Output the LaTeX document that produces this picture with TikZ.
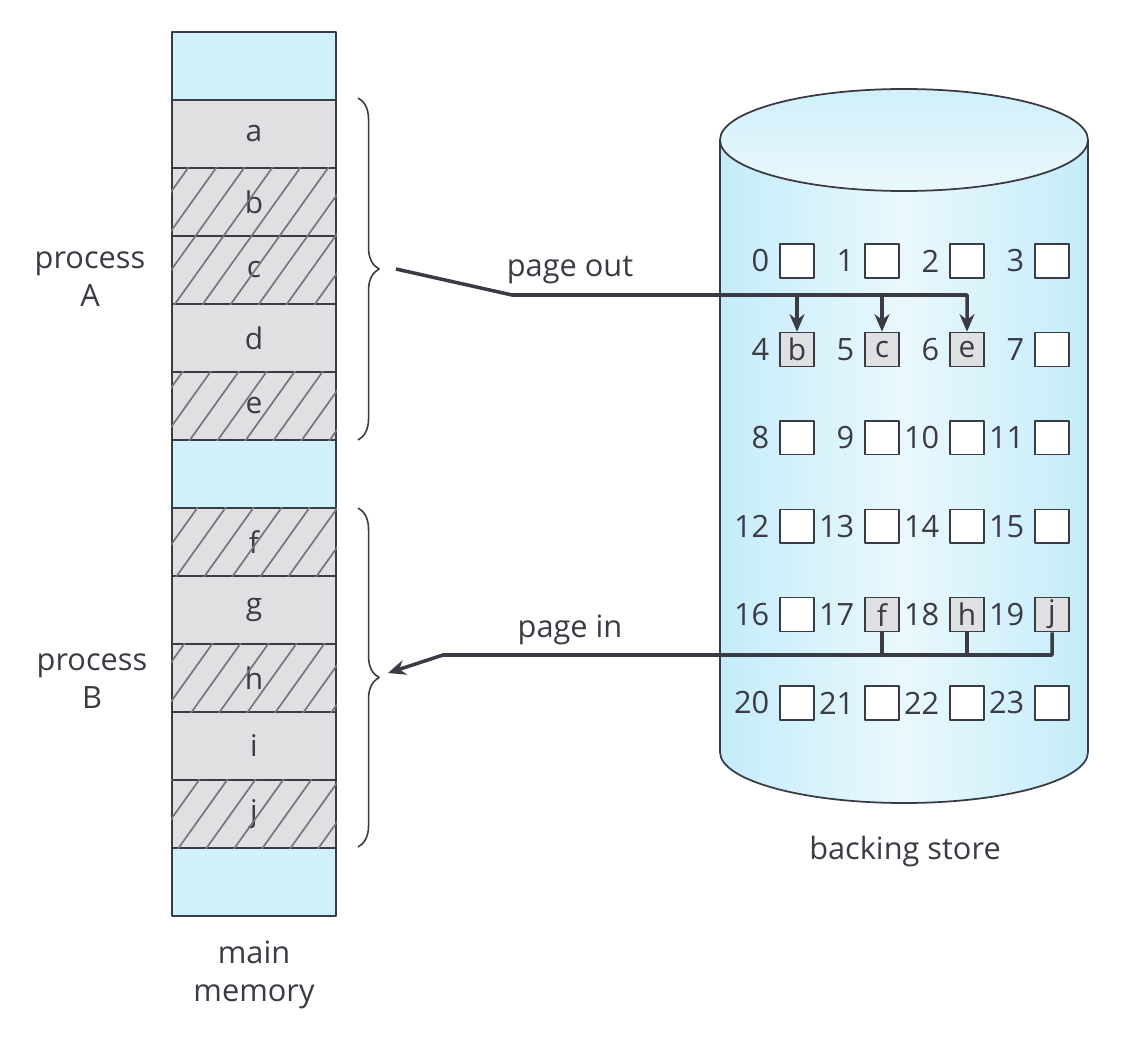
\documentclass[tikz,border=0pt]{standalone}
\usepackage{fontspec}
\setmainfont{Open Sans}
\usetikzlibrary{arrows.meta, calc, decorations.pathreplacing}

\definecolor{inkgray}{HTML}{3A3B44}
\definecolor{memcyan}{HTML}{D0F0FA}
\definecolor{pagegray}{HTML}{DFE0E2}
\definecolor{hatchgray}{HTML}{74757A}
\definecolor{diskedge}{HTML}{C4ECFA}
\definecolor{diskmid}{HTML}{EAF8FC}

\begin{document}
\begin{tikzpicture}[x=0.02cm, y=-0.02cm, line join=round,
    mem/.style={draw=inkgray, line width=1.1pt, minimum width=3.28cm, minimum height=1.36cm,
        inner sep=0pt, text=inkgray, font=\fontsize{17}{20}\selectfont},
    memfree/.style={mem, fill=memcyan},
    mempage/.style={mem, fill=pagegray},
    hatch/.style={draw=hatchgray, line width=0.95pt},
    slot/.style={draw=inkgray, line width=0.8pt, fill=white, minimum size=0.68cm,
        inner sep=0pt, text=inkgray, font=\fontsize{17}{20}\selectfont},
    used/.style={slot, fill=pagegray},
    num/.style={anchor=east, inner sep=0pt, text=inkgray, font=\fontsize{17.5}{20}\selectfont},
    txt/.style={align=center, text=inkgray, font=\fontsize{17.5}{21.5}\selectfont},
    conn/.style={draw=inkgray, line width=2pt},
    tip/.style={-{Stealth[length=10pt, width=8.5pt]}},
    curly/.style={draw=inkgray, line width=0.9pt, decorate,
        decoration={brace, amplitude=12pt, aspect=0.5}}]

    % page size of the picture
    \useasboundingbox[fill=white] (0,0) rectangle (1130,1037);

    % ---------------------------------------------------
    % main memory column
    % ---------------------------------------------------
    \node[memfree] (m0) at (254,66)  {};
    \node[mempage] (ma) at (254,134) {a};
    \node[mempage] (mb) at (254,202) {b};
    \node[mempage] (mc) at (254,270) {c};
    \node[mempage] (md) at (254,338) {d};
    \node[mempage] (me) at (254,406) {e};
    \node[memfree] (m6) at (254,474) {};
    \node[mempage] (mf) at (254,542) {f};
    \node[mempage] (mg) at (254,610) {g};
    \node[mempage] (mh) at (254,678) {h};
    \node[mempage] (mi) at (254,746) {i};
    \node[mempage] (mj) at (254,814) {j};
    \node[memfree] (m12) at (254,882) {};

    % hatching of the pages that move
    \foreach \row in {mb,mc,me,mf,mh,mj} {
        \begin{scope}
            \clip (\row.north west) rectangle (\row.south east);
            \foreach \p in {168,196,...,1080}
                \draw[hatch] (\p,0) -- ({\p-714},1000);
        \end{scope}
    }

    \node[txt] (procA) at (90,279) {process\\A};
    \node[txt] (procB) at (92,681) {process\\B};
    \node[txt] (mainmem) at (254,975) {main\\memory};

    % braces round the two processes
    \draw[curly] (358,98) -- (358,440);
    \draw[curly] (358,508) -- (358,847);

    % ---------------------------------------------------
    % backing store (cylinder)
    % ---------------------------------------------------
    \shade[left color=diskedge, right color=diskedge, middle color=diskmid]
        (720,140) -- (720,752) arc[start angle=180, end angle=0, x radius=184, y radius=51]
        -- (1088,140) -- cycle;
    \draw[inkgray, line width=1pt]
        (720,140) -- (720,752) arc[start angle=180, end angle=0, x radius=184, y radius=51]
        -- (1088,140);
    \shade[top color=memcyan, bottom color=diskmid, draw=inkgray, line width=1pt]
        (904,140) ellipse[x radius=184, y radius=51];

    \node[txt] (store) at (905,852) {backing store};

    % slots 0 ... 23
    \foreach \r in {0,...,5}
        \foreach \c in {0,...,3} {
            \pgfmathtruncatemacro{\n}{4*\r+\c}
            \node[slot] (s\n) at ({797+85*\c},{261+88.4*\r}) {};
            \node[num] (n\n) at ([xshift=-5.5pt]s\n.west) {\n};
        }

    \node[used] (pb) at (s4)  {b};
    \node[used] (pc) at (s5)  {c};
    \node[used] (pe) at (s6)  {e};
    \node[used] (pf) at (s17) {f};
    \node[used] (ph) at (s18) {h};
    \node[used] (pj) at (s19) {j};

    % ---------------------------------------------------
    % page out / page in
    % ---------------------------------------------------
    \coordinate (outstart) at (396,269);
    \coordinate (outbend) at (512,295);
    \draw[conn, tip] (outstart) -- (outbend) -| (pe.north);
    \draw[conn, tip] (outbend -| pb) -- (pb.north);
    \draw[conn, tip] (outbend -| pc) -- (pc.north);
    \node[txt] (pout) at (570,270) {page out};

    \coordinate (inbend) at (443,655);
    \coordinate (inend) at (388,673);
    \draw[conn, tip] (pj.south) |- (inbend) -- (inend);
    \draw[conn] (pf.south) -- (pf.south |- inbend);
    \draw[conn] (ph.south) -- (ph.south |- inbend);
    \node[txt] (pin) at (570,630) {page in};

\end{tikzpicture}
\end{document}
